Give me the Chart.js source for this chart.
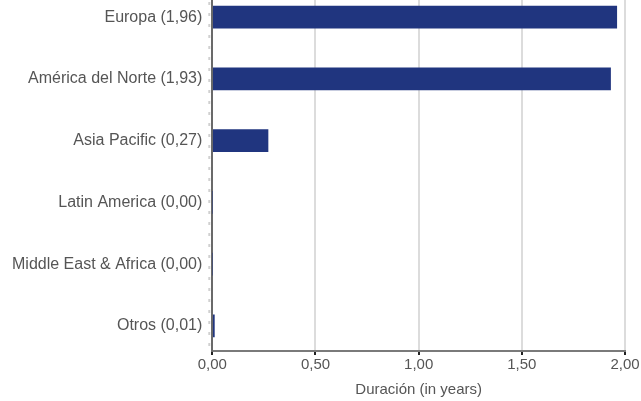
<!DOCTYPE html>
<html>
<head>
<meta charset="utf-8">
<title>Duración por región</title>
<script src="https://cdn.jsdelivr.net/npm/chart.js"></script>
<style>
  html, body { margin: 0; padding: 0; background: #fff; }
  #wrap { width: 641px; height: 401px; position: relative; }
</style>
</head>
<body>
<div id="wrap"><canvas id="chart"></canvas></div>
<script>
// datos
const regions = ['Europa', 'América del Norte', 'Asia Pacific', 'Latin America', 'Middle East & Africa', 'Otros'];
const durations = [1.96, 1.93, 0.27, 0.00, 0.00, 0.01];
const xTicks = [0, 0.5, 1, 1.5, 2];

// formato con coma decimal
const fmt = v => v.toFixed(2).replace('.', ',');

// linea punteada a la izquierda del eje y
const dashPlugin = {
  id: 'dashAxis',
  afterDraw(chart) {
    const { ctx, chartArea } = chart;
    ctx.save();
    ctx.strokeStyle = '#d0d0d0';
    ctx.lineWidth = 2;
    ctx.setLineDash([3, 8]);
    ctx.beginPath();
    ctx.moveTo(chartArea.left - 3, chartArea.top + 2);
    ctx.lineTo(chartArea.left - 3, chartArea.bottom);
    ctx.stroke();
    ctx.restore();
  }
};

new Chart(document.getElementById('chart'), {
  type: 'bar',
  data: {
    datasets: [{
      data: durations.map((v, i) => ({ x: v, y: i })),
      backgroundColor: '#20357f',
      barThickness: 22,
    }],
  },
  options: {
    indexAxis: 'y',
    responsive: true,
    maintainAspectRatio: false,
    animation: false,
    layout: { padding: { left: 2, right: 16, top: 0, bottom: 2 } },
    plugins: { legend: { display: false }, tooltip: { enabled: false } },
    scales: {
      x: {
        type: 'linear',
        min: 0,
        max: 2,
        afterBuildTicks: s => { s.ticks = xTicks.map(v => ({ value: v })); },
        ticks: {
          callback: v => fmt(v),
          color: '#555',
          font: { family: 'Liberation Sans', size: 15 },
          padding: 1,
        },
        grid: { color: '#dcdcdc', lineWidth: 2, tickColor: '#222', tickLength: 4 },
        border: { color: '#7a7a7a', width: 2 },
        title: {
          display: true,
          text: 'Duración (in years)',
          color: '#555',
          font: { family: 'Liberation Sans', size: 15 },
          padding: { top: 6, bottom: 0 },
        },
      },
      y: {
        type: 'linear',
        reverse: true,
        offset: false,
        min: -0.277,
        max: 5.407,
        afterBuildTicks: s => { s.ticks = regions.map((r, i) => ({ value: i })); },
        afterFit: s => { s.paddingTop = 0; s.paddingBottom = 0; },
        ticks: {
          callback: v => regions[v] + ' (' + fmt(durations[v]) + ')',
          color: '#555',
          font: { family: 'Liberation Sans', size: 16 },
          padding: 10,
        },
        grid: { display: false, drawTicks: false, offset: false },
        border: { color: '#6a6a6a', width: 2 },
      },
    },
  },
  plugins: [dashPlugin],
});
</script>
</body>
</html>
